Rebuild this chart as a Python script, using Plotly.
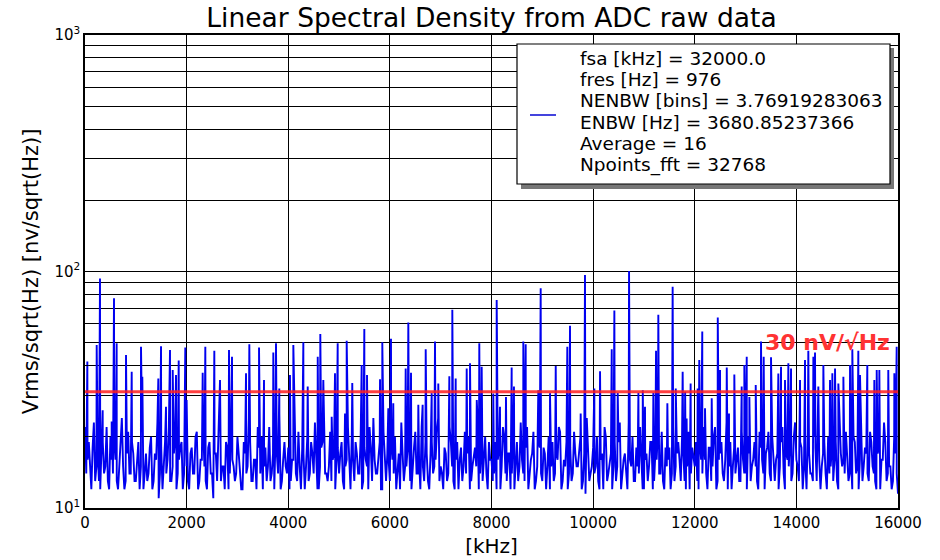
import plotly.graph_objects as go

# ---------------- data ----------------
# background noise floor, sampled every 50 Hz from 0 to 16000 Hz
base_step_hz = 50
noise_floor = [
    22, 16, 14, 18, 13, 17, 12, 19, 15, 13, 20, 14, 16, 12, 18, 15, 13, 21, 14, 17,
    13, 19, 15, 12, 17, 14, 20, 13, 16, 11, 18, 15, 14, 22, 13, 17, 12, 16, 19, 14,
    15, 12, 18, 14, 21, 13, 16, 15, 12, 19, 14, 17, 13, 24, 15, 12, 18, 14, 16, 13,
    20, 14, 12, 17, 15, 19, 13, 16, 22, 14, 12, 18, 15, 13, 17, 20, 14, 12, 16, 15,
    18, 13, 16, 14, 21, 12, 17, 15, 13, 19, 14, 16, 12, 18, 23, 14, 15, 13, 17, 16,
    14, 19, 12, 16, 15, 20, 13, 17, 14, 12, 18, 15, 22, 13, 16, 14, 19, 12, 15, 17,
    13, 16, 20, 14, 12, 17, 15, 18, 13, 16, 21, 14, 12, 15, 19, 13, 17, 14, 16, 24,
    15, 12, 17, 14, 19, 13, 16, 12, 18, 15, 14, 20, 13, 17, 15, 12, 18, 16, 14, 19,
    16, 14, 12, 18, 15, 20, 13, 17, 14, 12, 19, 15, 16, 13, 22, 14, 17, 12, 15, 18,
    13, 17, 15, 12, 19, 14, 16, 21, 13, 15, 12, 18, 14, 17, 15, 20, 13, 11.5, 16, 14,
    18, 15, 13, 16, 12, 20, 14, 17, 15, 13, 19, 12, 16, 14, 23, 15, 13, 18, 14, 16,
    12, 17, 15, 19, 13, 16, 14, 21, 12, 15, 18, 14, 13, 17, 16, 20, 13, 15, 12, 18,
    15, 13, 19, 14, 16, 12, 18, 15, 22, 13, 17, 14, 16, 12, 19, 15, 14, 18, 13, 16,
    14, 20, 13, 16, 15, 12, 18, 14, 17, 21, 13, 15, 16, 12, 19, 14, 17, 15, 13, 20,
    16, 13, 18, 15, 12, 17, 14, 20, 13, 16, 15, 19, 12, 14, 18, 16, 13, 22, 15, 14,
    17, 14, 12, 19, 15, 16, 13, 18, 14, 21, 15, 13, 17, 12, 16, 19, 14, 15, 13, 17,
    11.5,
]
noise_freq = [i * base_step_hz for i in range(len(noise_floor))]

# noise floor in between, at 25, 75, ..., 15975 Hz
noise_floor_mid = [
    14, 19, 12, 23, 15, 13, 18, 14, 22, 12, 16, 19, 13, 15, 24, 12, 17, 14, 19, 13,
    16, 12, 21, 14, 13, 18, 12, 17, 23, 14, 12, 19, 16, 13, 15, 20, 14, 18, 12, 25,
    13, 17, 14, 20, 12, 16, 22, 13, 18, 14, 11, 17, 20, 13, 15, 19, 12, 22, 15, 14,
    17, 12, 19, 14, 24, 13, 16, 12, 18, 20, 15, 13, 22, 14, 12, 17, 25, 13, 19, 14,
    12, 16, 21, 13, 15, 18, 12, 20, 14, 17, 23, 12, 15, 19, 14, 13, 21, 16, 12, 18,
    17, 13, 15, 22, 12, 16, 19, 14, 20, 13, 16, 12, 18, 24, 14, 17, 12, 21, 13, 16,
    19, 14, 12, 17, 23, 13, 15, 20, 12, 18, 14, 16, 22, 13, 17, 12, 19, 15, 21, 13,
    14, 18, 13, 22, 15, 12, 19, 16, 13, 21, 17, 12, 15, 18, 24, 14, 13, 20, 12, 16,
    13, 19, 16, 12, 22, 14, 17, 12, 20, 15, 13, 23, 14, 18, 12, 16, 21, 13, 19, 14,
    18, 12, 20, 15, 13, 17, 22, 12, 16, 19, 14, 13, 21, 15, 18, 12, 17, 24, 13, 15,
    14, 20, 12, 17, 22, 13, 16, 12, 19, 15, 23, 14, 17, 12, 16, 20, 13, 15, 22, 12,
    16, 13, 19, 12, 17, 21, 14, 13, 18, 16, 12, 22, 15, 19, 13, 17, 12, 21, 14, 16,
    19, 12, 16, 22, 14, 18, 13, 20, 12, 16, 19, 13, 23, 15, 12, 18, 16, 13, 21, 14,
    12, 17, 15, 19, 13, 21, 16, 12, 18, 14, 20, 13, 17, 15, 22, 12, 16, 19, 14, 23,
    15, 19, 12, 16, 21, 14, 13, 18, 22, 12, 17, 14, 20, 15, 13, 19, 12, 17, 16, 21,
    13, 16, 20, 14, 12, 22, 15, 17, 13, 19, 14, 12, 18, 16, 23, 13, 15, 12, 20, 14,
]
noise_freq_mid = [base_step_hz // 2 + i * base_step_hz for i in range(len(noise_floor_mid))]

# narrow spurs (frequency in Hz, level in nV/sqrt(Hz))
spur_freq = [
    46, 230, 295, 348, 525, 571, 623, 807, 919, 1102, 1128, 1443, 1496, 1594, 1673,
    1726, 1791, 1844, 1974, 2000, 2316, 2368, 2545, 2657, 2834, 2893, 3169, 3234,
    3425, 3523, 3706, 3759, 3824, 4034, 4100, 4297, 4383, 4580, 4631, 4690, 4855,
    4920, 4973, 5117, 5150, 5260, 5445, 5497, 5550, 5674, 5806, 5851, 5969, 6022,
    6067, 6311, 6363, 6416, 6560, 6645, 6705, 6823, 6888, 6953, 7170, 7229, 7295,
    7512, 7577, 7710, 7760, 7807, 8035, 8102, 8167, 8285, 8397, 8442, 8626, 8673,
    8921, 8968, 9151, 9264, 9492, 9545, 9755, 9840, 10024, 10136, 10366, 10418,
    10484, 10707, 10891, 10977, 11021, 11185, 11238, 11283, 11461, 11565, 11626,
    11762, 11811, 11840, 11919, 12057, 12089, 12148, 12202, 12334, 12453, 12498,
    12630, 12674, 12779, 12924, 12976, 13023, 13075, 13200, 13304, 13357, 13501,
    13645, 13698, 13776, 13842, 13895, 14072, 14170, 14235, 14334, 14367, 14432,
    14531, 14662, 14708, 14761, 14826, 14925, 15056, 15101, 15219, 15252, 15396,
    15534, 15581, 15633, 15809, 15928, 15974,
]
spur_level = [
    41.6, 48.9, 93.5, 25.9, 23.2, 77.0, 49.7, 44.4, 37.7, 48.1, 35.9, 35.3, 48.3, 26.8, 46.6,
    38.3, 36.5, 42.0, 47.7, 28.6, 37.3, 48.1, 46.2, 34.8, 46.6, 43.6, 37.1, 49.2,
    47.7, 34.8, 45.4, 49.7, 32.0, 36.5, 48.9, 50.2, 32.6, 43.6, 54.4, 34.8, 24.3,
    37.1, 49.7, 25.1, 51.0, 33.8, 40.2, 57.1, 36.5, 23.9, 35.0, 50.2, 26.4, 51.9,
    27.7, 38.9, 60.8, 37.3, 27.3, 27.3, 46.9, 30.6, 50.6, 33.6, 36.1, 68.9, 35.3,
    38.9, 40.9, 28.6, 49.7, 39.6, 30.5, 75.8, 26.8, 29.5, 39.3, 32.6, 50.6, 49.3,
    31.5, 84.9, 30.6, 39.8, 48.1, 58.9, 25.1, 96.6, 32.0, 37.9, 46.9, 68.4,
    30.6, 100.5, 30.6, 31.5, 26.8, 30.6, 46.2, 65.6, 27.7, 86.3, 32.0,
    37.7, 31.0, 23.9, 33.6, 32.0, 42.2, 55.8, 26.4, 29.1, 63.9, 38.3,
    39.3, 25.1, 36.7, 32.6, 40.2, 43.6, 29.5, 33.1, 50.6, 43.6, 43.4,
    37.0, 39.6, 34.8, 40.9, 38.9, 34.8, 42.2, 46.2, 43.6, 45.4, 32.6,
    40.2, 34.8, 37.1, 38.9, 33.6, 35.9, 40.2, 46.9, 46.2, 36.5, 40.2,
    34.8, 38.3, 38.3, 38.3, 37.1, 48.1,
]

ref_level = 31          # red reference line, nV/sqrt(Hz)
ref_label = "30 nV/\u221aHz"

legend_lines = [
    "fsa [kHz] = 32000.0",
    "fres [Hz] = 976",
    "NENBW [bins] = 3.76919283063",
    "ENBW [Hz] = 3680.85237366",
    "Average = 16",
    "Npoints_fft = 32768",
]
x_ticks = [0, 2000, 4000, 6000, 8000, 10000, 12000, 14000, 16000]
x_tick_text = [str(v) for v in x_ticks]
y_ticks = [10, 100, 1000]
y_tick_text = ["10<sup>1</sup>", "10<sup>2</sup>", "10<sup>3</sup>"]
y_minor = [20, 30, 40, 50, 60, 70, 80, 90, 200, 300, 400, 500, 600, 700, 800, 900]

# merge floor samples and spurs into one spectrum ordered by frequency
pts = sorted(list(zip(noise_freq, noise_floor))
             + list(zip(noise_freq_mid, noise_floor_mid))
             + list(zip(spur_freq, spur_level)))
freq = [p[0] for p in pts]
lsd = [p[1] for p in pts]

FONT = "DejaVu Sans"

# plot-area geometry in pixels (for placing the legend box)
L, R, T, B = 85, 898, 35, 508
def px_x(x):
    return (x - L) / (R - L)
def px_y(y):
    return 1 - (y - T) / (B - T)

fig = go.Figure()
fig.add_trace(go.Scatter(
    x=freq, y=lsd, mode="lines",
    line=dict(color="#0000f0", width=1.9),
    name="<br>".join(legend_lines), showlegend=False,
))
fig.add_trace(go.Scatter(
    x=[x_ticks[0], x_ticks[-1]], y=[ref_level, ref_level], mode="lines",
    line=dict(color="rgba(255,30,30,0.85)", width=3),
    showlegend=False, hoverinfo="skip",
))

fig.add_annotation(
    x=14622, y=1.70, xref="x", yref="y", text="<b>" + ref_label + "</b>",
    showarrow=False, font=dict(family=FONT, size=22, color="#ff3333"),
)

# legend box: shadow, frame, line sample, text lines
fig.add_shape(type="rect", xref="paper", yref="paper",
              x0=px_x(521), x1=px_x(894), y0=px_y(189), y1=px_y(48),
              fillcolor="#777777", line=dict(width=0), layer="above")
fig.add_shape(type="rect", xref="paper", yref="paper",
              x0=px_x(517), x1=px_x(890), y0=px_y(184), y1=px_y(44),
              fillcolor="white", line=dict(color="black", width=1.2), layer="above")
fig.add_shape(type="line", xref="paper", yref="paper",
              x0=px_x(530), x1=px_x(556), y0=px_y(115), y1=px_y(115),
              line=dict(color="#4444dd", width=2), layer="above")
for i, txt in enumerate(legend_lines):
    fig.add_annotation(x=px_x(578), y=px_y(58.5 + i * 21.2), xref="paper", yref="paper",
                       text=txt, showarrow=False, xanchor="left", yanchor="middle",
                       font=dict(family=FONT, size=18.5, color="black"))

fig.update_layout(
    width=940, height=560,
    margin=dict(l=L, r=940 - R, t=T, b=560 - B),
    paper_bgcolor="white", plot_bgcolor="white",
    font=dict(family=FONT, size=15, color="black"),
    title=dict(text="Linear Spectral Density from ADC raw data",
               font=dict(family=FONT, size=26.5, color="black"),
               x=0.5, xref="paper", y=1 - 18 / 560, yref="container", yanchor="middle"),
    showlegend=False,
    xaxis=dict(range=[0, 16000], tickmode="array", tickvals=x_ticks, ticktext=x_tick_text,
               showgrid=True, gridcolor="black", gridwidth=1,
               showline=True, linecolor="black", linewidth=1.5, mirror=True,
               ticks="inside", ticklen=6, tickcolor="black", zeroline=False,
               automargin=False,
               title=dict(text="[kHz]", font=dict(family=FONT, size=20), standoff=8)),
    yaxis=dict(type="log", range=[1, 3], tickmode="array", tickvals=y_ticks,
               ticktext=y_tick_text,
               showgrid=True, gridcolor="black", gridwidth=1,
               showline=True, linecolor="black", linewidth=1.5, mirror=True,
               ticks="inside", ticklen=6, tickcolor="black", zeroline=False,
               automargin=False,
               minor=dict(tickmode="array", tickvals=y_minor, showgrid=True,
                          gridcolor="black", gridwidth=1, ticks="inside", ticklen=3),
               title=dict(text="Vrms/sqrt(Hz) [nv/sqrt(Hz)]",
                          font=dict(family=FONT, size=21), standoff=10)),
)

fig.write_html("out.html")
